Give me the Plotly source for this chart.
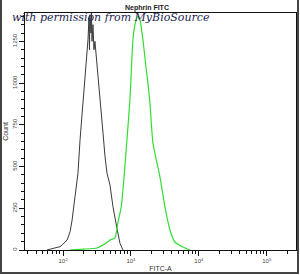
import plotly.graph_objects as go

# Isotype control (black) histogram
ctrl_x = [58, 76, 90, 97, 107, 115, 127, 136, 150, 166, 178, 190, 197, 210, 225, 233, 241, 245, 249,
          258, 262, 267, 276, 285, 295, 316, 338, 362, 388, 415, 444, 491, 543, 622, 689, 763]
ctrl_y = [0, 10, 20, 30, 45, 60, 110, 180, 320, 460, 660, 800, 900, 1020, 1140, 1260, 1390, 1200, 1410,
          1300, 1420, 1250, 1350, 1200, 1250, 1100, 960, 840, 700, 560, 460, 390, 260, 130, 40, 0]

# Nephrin FITC (green) histogram
neph_x = [127, 197, 316, 388, 444, 491, 582, 640, 720, 800, 873, 966, 1070, 1145, 1268, 1355, 1500,
          1660, 1778, 1905, 2109, 2667, 3162, 3750, 4436, 5821, 7376]
neph_y = [0, 5, 12, 30, 45, 60, 72, 160, 260, 460, 660, 900, 1260, 1350, 1400, 1380, 1260,
          1100, 1000, 880, 640, 440, 260, 120, 48, 18, 0]

y_ticks = [0, 250, 500, 750, 1000, 1250]
x_ticks = [100, 1000, 10000, 100000]
x_ticktext = ["10<sup>2</sup>", "10<sup>3</sup>", "10<sup>4</sup>", "10<sup>5</sup>"]

fig = go.Figure()
fig.add_trace(go.Scatter(x=ctrl_x, y=ctrl_y, mode="lines",
                         line=dict(color="#3a3a3a", width=1), showlegend=False))
fig.add_trace(go.Scatter(x=neph_x, y=neph_y, mode="lines", line_shape="spline",
                         line=dict(color="#33dd33", width=1.2, smoothing=0.6), showlegend=False))

L, R, T, B = 25, 4, 13, 25
W, H = 300, 275
pw, ph = W - L - R, H - T - B

fig.update_layout(
    width=W, height=H,
    margin=dict(l=L, r=R, t=T, b=B),
    paper_bgcolor="white", plot_bgcolor="white",
    font=dict(family="Liberation Sans, Arial", color="#333"),
    xaxis=dict(type="log", range=[1.44, 5.43],
               tickvals=x_ticks, ticktext=x_ticktext,
               ticks="outside", ticklen=5, tickcolor="#111", tickwidth=1,
               minor=dict(ticks="outside", ticklen=3, dtick="D1", tickcolor="#111", tickwidth=1),
               showgrid=False, zeroline=False,
               showline=True, linecolor="#111", linewidth=1, mirror=True,
               tickfont=dict(size=6, color="#444"),
               title=dict(text="FITC-A", font=dict(size=7, color="#333"), standoff=2)),
    yaxis=dict(range=[0, 1420],
               tickvals=y_ticks, ticktext=[str(v) for v in y_ticks],
               ticks="outside", ticklen=5, tickcolor="#111", tickwidth=1,
               minor=dict(ticks="outside", ticklen=3, dtick=50, tickcolor="#111", tickwidth=1),
               showgrid=False, zeroline=False,
               showline=True, linecolor="#111", linewidth=1, mirror=True,
               tickangle=-90,
               tickfont=dict(size=6, color="#444"),
               title=dict(text="Count", font=dict(size=7, color="#333"), standoff=2)),
)

# outer frame of the picture (left, right, bottom)
def px_x(p):
    return (p - L) / pw

def px_y(p):
    return (H - B - p) / ph

frame = dict(type="line", xref="paper", yref="paper", line=dict(color="#444", width=2))
fig.add_shape(**frame, x0=px_x(1), x1=px_x(1), y0=px_y(0), y1=px_y(274))
fig.add_shape(**frame, x0=px_x(298), x1=px_x(298), y0=px_y(0), y1=px_y(274))
fig.add_shape(**frame, x0=px_x(0), x1=px_x(299), y0=px_y(273), y1=px_y(273))

fig.add_annotation(text="<b>Nephrin FITC</b>", xref="paper", yref="paper",
                   x=px_x(147), y=px_y(8), showarrow=False,
                   font=dict(size=7, color="#222"), xanchor="center", yanchor="middle")
fig.add_annotation(text="<i>with permission from MyBioSource</i>", xref="paper", yref="paper",
                   x=px_x(10), y=px_y(17), showarrow=False,
                   font=dict(size=11, color="#1c2650", family="DejaVu Serif"),
                   xanchor="left", yanchor="middle")

fig.write_html("out.html")
